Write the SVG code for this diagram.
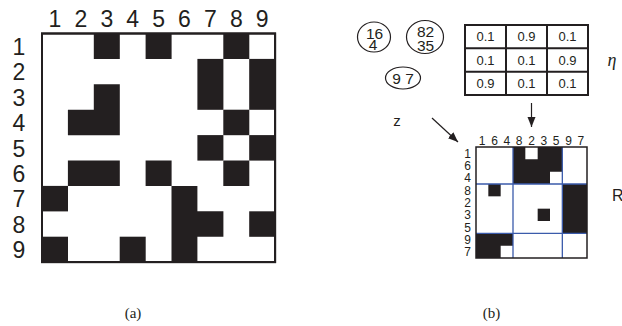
<svg xmlns="http://www.w3.org/2000/svg" width="622" height="326" viewBox="0 0 622 326">
<style>
.lab{font-family:"Liberation Sans",Arial,sans-serif;fill:#231f20;text-anchor:middle}
.big{font-size:23px}
.sm{font-size:12px}
.num{font-size:13px}
.ct{font-size:15.5px}
.k{fill:#231f20}
.frame{fill:#fff;stroke:#231f20;stroke-width:2}
.grid{stroke:#231f20;stroke-width:2;fill:none}
.blue{stroke:#3b5bab;stroke-width:1.3;fill:none}
.cap{font-family:"Liberation Serif","Times New Roman",serif;font-size:15px;fill:#231f20;text-anchor:middle}
.circ{fill:none;stroke:#231f20;stroke-width:1.2}
.arr{stroke:#231f20;stroke-width:1.2;fill:none;marker-end:url(#ah)}
</style>
<defs>
<marker id="ah" markerUnits="userSpaceOnUse" markerWidth="10" markerHeight="10" refX="10" refY="5" orient="auto" viewBox="0 0 10 10">
<path d="M0,1 L10,5 L0,9 Z" fill="#231f20"/>
</marker>
</defs>
<rect width="622" height="326" fill="#fff"/>

<g id="matrix-a">
<rect class="frame" x="42" y="33.5" width="233.1" height="228.6"/>
<g id="cells-a" class="k">
<rect x="93.8" y="33.5" width="26" height="25.5"/>
<rect x="145.6" y="33.5" width="26" height="25.5"/>
<rect x="223.3" y="33.5" width="26" height="25.5"/>
<rect x="197.4" y="58.9" width="26" height="50.9"/>
<rect x="249.2" y="58.9" width="25.9" height="50.9"/>
<path d="M93.8,84.3H119.8V135.2H67.9V109.7H93.8Z"/>
<rect x="223.3" y="109.7" width="26" height="25.5"/>
<rect x="197.4" y="135.1" width="26" height="25.5"/>
<rect x="249.2" y="135.1" width="25.9" height="25.5"/>
<rect x="67.9" y="160.5" width="51.9" height="25.5"/>
<rect x="145.6" y="160.5" width="26" height="25.5"/>
<rect x="223.3" y="160.5" width="26" height="25.5"/>
<rect x="42" y="185.9" width="26" height="25.5"/>
<path d="M171.5,185.9H197.4V211.3H223.4V236.8H197.4V262.1H171.5Z"/>
<rect x="249.2" y="211.3" width="25.9" height="25.5"/>
<rect x="42" y="236.7" width="26" height="25.4"/>
<rect x="119.7" y="236.7" width="26" height="25.4"/>
</g>
<rect x="42" y="33.5" width="233.1" height="228.6" fill="none" stroke="#231f20" stroke-width="2"/>
<g id="col-labels-a" class="lab big">
<text x="55" y="27">1</text><text x="80.9" y="27">2</text><text x="106.8" y="27">3</text>
<text x="132.7" y="27">4</text><text x="158.6" y="27">5</text><text x="184.5" y="27">6</text>
<text x="210.4" y="27">7</text><text x="236.3" y="27">8</text><text x="262.2" y="27">9</text>
</g>
<g id="row-labels-a" class="lab big">
<text x="19" y="55">1</text><text x="19" y="80.4">2</text><text x="19" y="105.8">3</text>
<text x="19" y="131.2">4</text><text x="19" y="156.6">5</text><text x="19" y="182">6</text>
<text x="19" y="207.4">7</text><text x="19" y="232.8">8</text><text x="19" y="258.2">9</text>
</g>
</g>

<g id="cluster-164">
<ellipse class="circ" cx="374" cy="37" rx="16.5" ry="15"/>
<text class="lab ct" x="374.5" y="38.5">16</text>
<text class="lab ct" x="373" y="49.5">4</text>
</g>
<g id="cluster-8235">
<ellipse class="circ" cx="425" cy="37" rx="18.5" ry="16.5"/>
<text class="lab ct" x="425.5" y="37">82</text>
<text class="lab ct" x="425.5" y="50.5">35</text>
</g>
<g id="cluster-97">
<ellipse class="circ" cx="403" cy="78" rx="17.5" ry="11"/>
<text class="lab ct" x="403" y="83.5">9 7</text>
</g>

<g id="eta-matrix">
<rect class="grid" x="465" y="25" width="123" height="70"/>
<path class="grid" d="M506,25V95M547,25V95M465,48.3H588M465,71.7H588"/>
<g class="lab num">
<text x="485.5" y="41.3">0.1</text><text x="526.5" y="41.3">0.9</text><text x="567.5" y="41.3">0.1</text>
<text x="485.5" y="64.6">0.1</text><text x="526.5" y="64.6">0.1</text><text x="567.5" y="64.6">0.9</text>
<text x="485.5" y="88">0.9</text><text x="526.5" y="88">0.1</text><text x="567.5" y="88">0.1</text>
</g>
</g>
<g id="eta-label">
<text x="612" y="66" style="font-family:'Liberation Serif','Times New Roman',serif;font-style:italic;font-size:18px;fill:#231f20;text-anchor:middle">η</text>
</g>

<g id="z-label">
<text class="lab" style="font-size:15px" x="397" y="126">z</text>
</g>

<g id="matrix-r">
<rect x="476" y="147" width="111" height="111" fill="#fff"/>
<g id="cells-r" class="k">
<path d="M513,147H525.33V159.33H537.67V147H562.33V171.67H550V184H513Z"/>
<rect x="488.33" y="184" width="12.34" height="12.33"/>
<rect x="562.33" y="184" width="24.67" height="49.33"/>
<rect x="537.67" y="208.67" width="12.33" height="12.33"/>
<path d="M476,233.33H513V245.67H500.67V258H476Z"/>
</g>
<path class="blue" d="M513,147V258M562.33,147V258M476,184H587M476,233.33H587"/>
<rect x="476" y="147" width="111" height="111" fill="none" stroke="#231f20" stroke-width="1.5"/>
<g id="col-labels-r" class="lab sm">
<text x="482.2" y="145">1</text><text x="494.5" y="145">6</text><text x="506.8" y="145">4</text>
<text x="519.2" y="145">8</text><text x="531.5" y="145">2</text><text x="543.8" y="145">3</text>
<text x="556.2" y="145">5</text><text x="568.5" y="145">9</text><text x="580.8" y="145">7</text>
</g>
<g id="row-labels-r" class="lab sm" style="text-anchor:end">
<text x="471" y="157.5">1</text><text x="471" y="169.8">6</text><text x="471" y="182.1">4</text>
<text x="471" y="194.5">8</text><text x="471" y="206.8">2</text><text x="471" y="219.1">3</text>
<text x="471" y="231.5">5</text><text x="471" y="243.8">9</text><text x="471" y="256.1">7</text>
</g>
</g>
<g id="r-label">
<text class="lab" style="font-size:16px;text-anchor:start" x="612" y="201">R</text>
</g>

<g id="connectors">
<line class="arr" x1="531.5" y1="103" x2="531.5" y2="127"/>
<line class="arr" x1="432" y1="118" x2="458" y2="142"/>
</g>

<g id="captions">
<text class="cap" x="133" y="318">(a)</text>
<text class="cap" x="491.5" y="318">(b)</text>
</g>
</svg>
